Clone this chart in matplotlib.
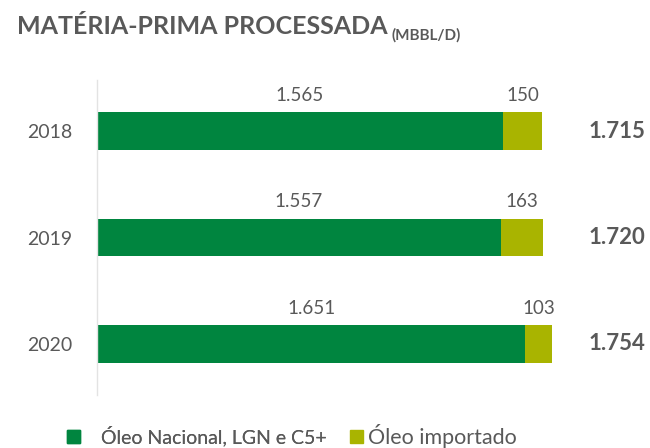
import matplotlib
matplotlib.use("Agg")
import matplotlib.pyplot as plt
from matplotlib.patches import Patch

years = ["2018", "2019", "2020"]
nacional = [1565, 1557, 1651]
importado = [150, 163, 103]
totals = ["1.715", "1.720", "1.754"]
nac_labels = ["1.565", "1.557", "1.651"]
imp_labels = ["150", "163", "103"]
series_names = ["Óleo Nacional, LGN e C5+", "Óleo importado"]

GREEN = "#00853F"
OLIVE = "#A9B400"
GRAY = "#595959"
FONT = ["Lato", "DejaVu Sans"]
plt.rcParams["font.family"] = FONT

W, H = 650, 448
fig = plt.figure(figsize=(W / 100, H / 100), dpi=100)
# axes in pixel coords: left 97, right 650, top 80, bottom 395
ax = fig.add_axes([97 / W, (H - 395) / H, (W - 97) / W, (395 - 80) / H])

ypos = list(range(len(years)))
bh = 0.35
ax.barh(ypos, nacional, height=bh, color=GREEN, edgecolor="none")
ax.barh(ypos, importado, left=nacional, height=bh, color=OLIVE, edgecolor="none")

ax.set_xlim(0, 553 / 0.2594)
ax.set_ylim(2.48, -0.48)

for i in ypos:
    ax.text(nacional[i] / 2, i - bh / 2 - 0.08, nac_labels[i], ha="center", va="bottom",
            fontsize=13.5, color=GRAY)
    ax.text(nacional[i] + importado[i] / 2, i - bh / 2 - 0.08, imp_labels[i], ha="center",
            va="bottom", fontsize=13.5, color=GRAY)
    ax.text(1893, i, totals[i], ha="left", va="center", fontsize=16, fontweight="bold",
            color=GRAY)

ax.set_yticks(ypos)
ax.set_yticklabels(years, fontsize=14, color=GRAY)
ax.tick_params(axis="y", length=0, pad=18)
ax.set_xticks([])
for s in ["top", "right", "bottom"]:
    ax.spines[s].set_visible(False)
ax.spines["left"].set_color("#E3E3E3")
ax.spines["left"].set_linewidth(1.0)

fig.text(17 / W, 1 - 27 / H, "MATÉRIA-PRIMA PROCESSADA", ha="left", va="center",
         fontsize=18, fontweight="bold", color=GRAY)
fig.text(392 / W, 1 - 35 / H, "(MBBL/D)", ha="left", va="center", fontsize=11,
         fontweight="bold", color=GRAY)

leg1 = fig.legend([Patch(color=GREEN)], [series_names[0]], loc="center left",
                  bbox_to_anchor=(67 / W, 1 - 436 / H), frameon=False, fontsize=14,
                  handlelength=0.67, handleheight=0.67, handletextpad=1.1,
                  borderpad=0, borderaxespad=0, labelcolor=GRAY)
leg2 = fig.legend([Patch(color=OLIVE)], [series_names[1]], loc="center left",
                  bbox_to_anchor=(350 / W, 1 - 436 / H), frameon=False, fontsize=15.5,
                  handlelength=0.6, handleheight=0.6, handletextpad=0.25,
                  borderpad=0, borderaxespad=0, labelcolor=GRAY)
fig.add_artist(leg1)

fig.savefig("out.png", dpi=100)
